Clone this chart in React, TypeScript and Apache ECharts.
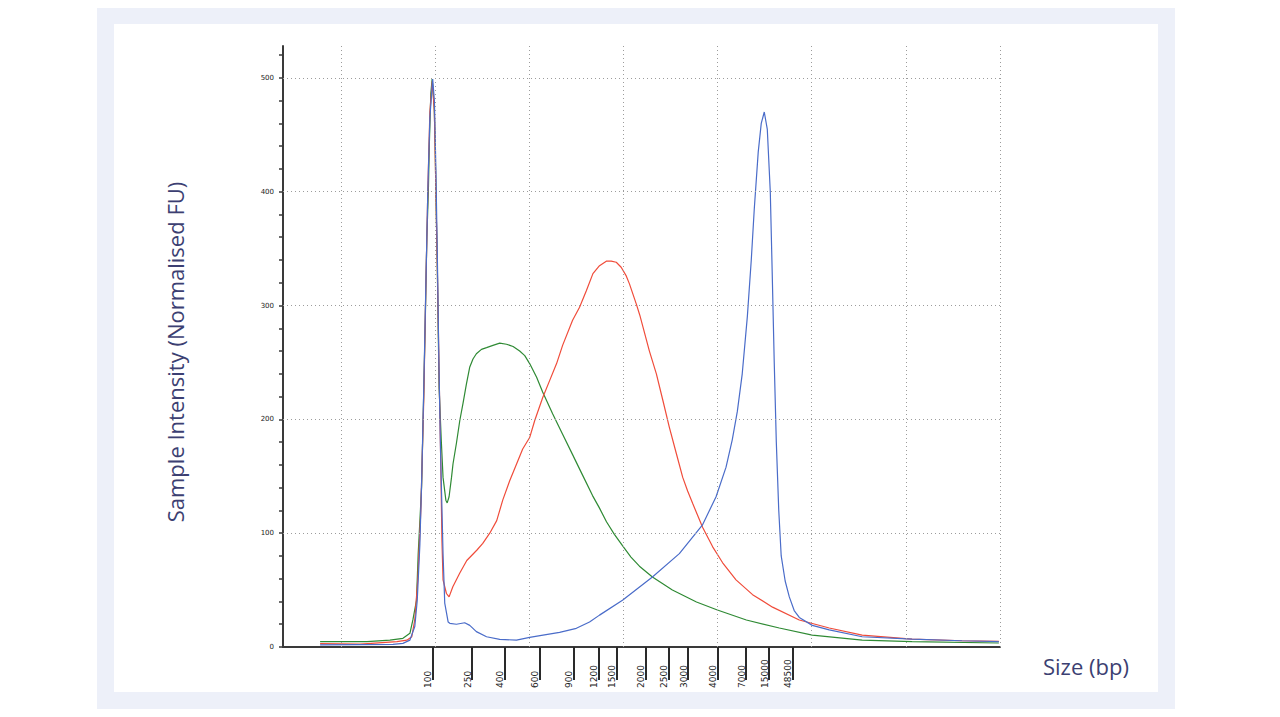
import React, { useEffect, useRef } from "react";
import * as echarts from "echarts";

// Axis scaffolding (migration time in s, intensity in FU)
const gridTimes = [20, 25, 30, 35, 40, 45, 50, 55];
const gridFU = [100, 200, 300, 400, 500];
const yLabelValues = [0, 100, 200, 300, 400, 500];
const yTickValues = [0, 20, 40, 60, 80, 100, 120, 140, 160, 180, 200, 220, 240, 260, 280, 300, 320, 340, 360, 380, 400, 420, 440, 460, 480, 500, 520];

// Ladder (size standard) positions and their bp labels
const ladderTimes = [24.85, 26.96, 28.71, 30.54, 32.36, 33.67, 34.65, 36.16, 37.4, 38.44, 39.99, 41.52, 42.74, 43.97];
const ladderLabels = ["100", "250", "400", "600", "900", "1200", "1500", "2000", "2500", "3000", "4000", "7000", "15000", "48500"];

// Green trace
const greenTime = [18.89, 21.38, 22.6, 23.29, 23.66, 23.82, 24.01, 24.1, 24.28, 24.4, 24.48, 24.56, 24.64, 24.69, 24.77, 24.84, 24.95, 25.0, 25.04, 25.11, 25.21, 25.33, 25.42, 25.57, 25.64, 25.74, 25.87, 25.95, 26.13, 26.31, 26.48, 26.66, 26.84, 27.01, 27.19, 27.46, 27.73, 28.07, 28.43, 28.79, 29.14, 29.49, 29.76, 30.02, 30.39, 30.71, 31.24, 31.77, 32.3, 32.83, 33.36, 33.73, 34.1, 34.52, 34.95, 35.4, 35.85, 36.54, 37.6, 38.88, 39.99, 41.53, 43.28, 45.03, 47.68, 50.33, 54.94];
const greenFU = [4.7, 4.7, 6, 7.6, 12, 24, 41, 82, 140, 228, 290, 360, 400, 440, 486, 499, 474, 442, 398, 339, 228, 180, 149, 129, 126.6, 132, 149, 161, 179, 199, 214, 231, 246, 253, 257.6, 261.5, 263, 265, 267, 266, 264, 260, 256, 249, 237, 224, 205, 187, 169, 151, 133, 122, 110, 99, 89, 79, 71, 61.5, 50, 39.5, 32.5, 23.7, 16.7, 10.5, 6, 4.7, 3.5];

// Red trace
const redTime = [18.89, 21.01, 22.97, 23.5, 23.76, 23.92, 24.08, 24.24, 24.4, 24.51, 24.61, 24.72, 24.85, 24.96, 25.04, 25.12, 25.2, 25.29, 25.36, 25.42, 25.6, 25.74, 25.94, 26.31, 26.68, 27.21, 27.53, 27.9, 28.27, 28.59, 28.96, 29.33, 29.65, 30.02, 30.29, 30.71, 31.08, 31.45, 31.77, 32.3, 32.67, 33.03, 33.38, 33.73, 34.09, 34.35, 34.62, 34.88, 35.15, 35.32, 35.69, 35.87, 36.04, 36.38, 36.75, 37.09, 37.44, 37.81, 38.15, 38.41, 38.68, 39.21, 39.74, 40.27, 40.98, 41.86, 42.92, 44.34, 45.93, 47.68, 50.33, 52.98, 54.94];
const redFU = [3, 2.5, 4.7, 6, 9, 24, 60, 120, 220, 320, 400, 470, 497, 470, 400, 330, 250, 170, 94, 59, 47, 44, 53, 65, 76, 85, 91, 100, 111, 129, 146, 161, 174, 184, 199, 219, 234, 249, 265, 287, 298.5, 313, 328, 335, 339, 339, 338, 333.6, 326, 319, 301, 291.5, 281, 260, 240, 217, 193, 170, 149, 137, 126, 105, 88, 74, 59, 46, 35, 23.7, 16.7, 10.5, 7, 5.5, 5];

// Blue trace
const blueTime = [18.89, 22.76, 23.29, 23.66, 23.92, 24.05, 24.19, 24.29, 24.4, 24.51, 24.61, 24.72, 24.87, 24.96, 25.04, 25.12, 25.2, 25.29, 25.42, 25.51, 25.69, 25.78, 26.13, 26.57, 26.84, 27.19, 27.73, 28.43, 29.32, 30.02, 30.73, 31.61, 32.5, 33.2, 33.73, 34.95, 36.54, 37.97, 39.19, 39.92, 40.45, 40.78, 41.05, 41.31, 41.58, 41.79, 41.95, 42.16, 42.32, 42.48, 42.64, 42.8, 42.9, 43.01, 43.12, 43.25, 43.38, 43.59, 43.81, 44.07, 44.34, 45.03, 45.93, 47.68, 50.33, 52.98, 54.94];
const blueFU = [1.8, 2.3, 3.2, 6, 18, 41, 90, 150, 230, 320, 400, 465, 499, 480, 420, 340, 250, 170, 82, 38.6, 22, 20.8, 20, 21.3, 19, 13.5, 9, 6.7, 6, 8.5, 10.5, 12.9, 16.4, 22, 28, 41, 61.5, 82, 107, 132, 158, 182, 207, 240, 290, 340, 385, 435, 460, 470, 455, 400, 330, 250, 180, 120, 80, 58, 44, 32, 26, 19, 15, 9, 7, 5.5, 4.7];

const xMin = 16.92;
const xMax = 55;

const zip = (t: number[], v: number[]) => t.map((x, i) => [x, v[i]]);

export default function App() {
  const ref = useRef<HTMLDivElement>(null);
  useEffect(() => {
    if (!ref.current) return;
    const chart = echarts.init(ref.current, undefined, { renderer: "svg" });
    const gridLineStyle = { type: [1, 3] as any, color: "#9c9c9c", width: 1 };
    chart.setOption({
      animation: false,
      backgroundColor: "#ffffff",
      graphic: [
        { type: "rect", z: -10, shape: { x: 97, y: 8, width: 1078, height: 701 }, style: { fill: "#EDF0F9" } },
        { type: "rect", z: -9, shape: { x: 114, y: 24, width: 1044, height: 668 }, style: { fill: "#ffffff" } },
        {
          type: "text", z: 10, x: 175, y: 352, rotation: Math.PI / 2,
          style: { text: "Sample Intensity (Normalised FU)", fill: "#3c3f72", font: '22px "Open Sans"', textAlign: "center", textVerticalAlign: "middle", align: "center", verticalAlign: "middle" } as any,
        },
        {
          type: "text", z: 10, x: 1043, y: 666,
          style: { text: "Size (bp)", fill: "#3c3f72", font: '22px "Open Sans"', textAlign: "left", textVerticalAlign: "middle", align: "left", verticalAlign: "middle" } as any,
        },
      ],
      grid: { left: 283, top: 46, right: 280, bottom: 70 },
      xAxis: [
        {
          type: "value", min: xMin, max: xMax,
          axisLine: { show: true, onZero: false, lineStyle: { color: "#3a3a3a", width: 2 } },
          axisTick: { show: false }, axisLabel: { show: false }, splitLine: { show: false },
        },
        {
          type: "value", min: xMin, max: xMax, position: "bottom", offset: 10,
          axisLine: { show: false },
          axisTick: { show: true, customValues: ladderTimes, length: 33, lineStyle: { color: "#2a2a2a", width: 2 } },
          axisLabel: {
            show: true, customValues: ladderTimes,
            formatter: (v: number) => { const i = ladderTimes.indexOf(v); return i >= 0 ? ladderLabels[i] : ""; },
            rotate: 90, align: "left", verticalAlign: "bottom", margin: 31,
            fontSize: 9, color: "#222", fontFamily: "DejaVu Sans",
          },
          splitLine: { show: false },
        },
      ],
      yAxis: {
        type: "value", min: 0, max: 528,
        axisLine: { show: true, onZero: false, lineStyle: { color: "#3a3a3a", width: 2 } },
        axisTick: { show: true, customValues: yTickValues, length: 4, lineStyle: { color: "#3a3a3a", width: 1.5 } },
        axisLabel: { show: true, customValues: yLabelValues, margin: 9, fontSize: 7, color: "#222", fontFamily: "DejaVu Sans" },
        splitLine: { show: false },
      },
      series: [
        {
          name: "Green", type: "line", xAxisIndex: 0, data: zip(greenTime, greenFU),
          showSymbol: false, symbol: "none", lineStyle: { color: "#2f8a34", width: 1.2 }, itemStyle: { color: "#2f8a34" },
          markLine: {
            silent: true, symbol: "none", label: { show: false }, lineStyle: gridLineStyle,
            data: [...gridTimes.map((t) => ({ xAxis: t })), ...gridFU.map((v) => ({ yAxis: v }))],
          },
        },
        {
          name: "Red", type: "line", xAxisIndex: 0, data: zip(redTime, redFU),
          showSymbol: false, symbol: "none", lineStyle: { color: "#f04c3a", width: 1.2 }, itemStyle: { color: "#f04c3a" },
        },
        {
          name: "Blue", type: "line", xAxisIndex: 0, data: zip(blueTime, blueFU),
          showSymbol: false, symbol: "none", lineStyle: { color: "#4a6cc9", width: 1.2 }, itemStyle: { color: "#4a6cc9" },
        },
      ],
    });
    return () => chart.dispose();
  }, []);
  return <div ref={ref} style={{ position: "fixed", left: 0, top: 0, width: 1280, height: 717 }} />;
}
